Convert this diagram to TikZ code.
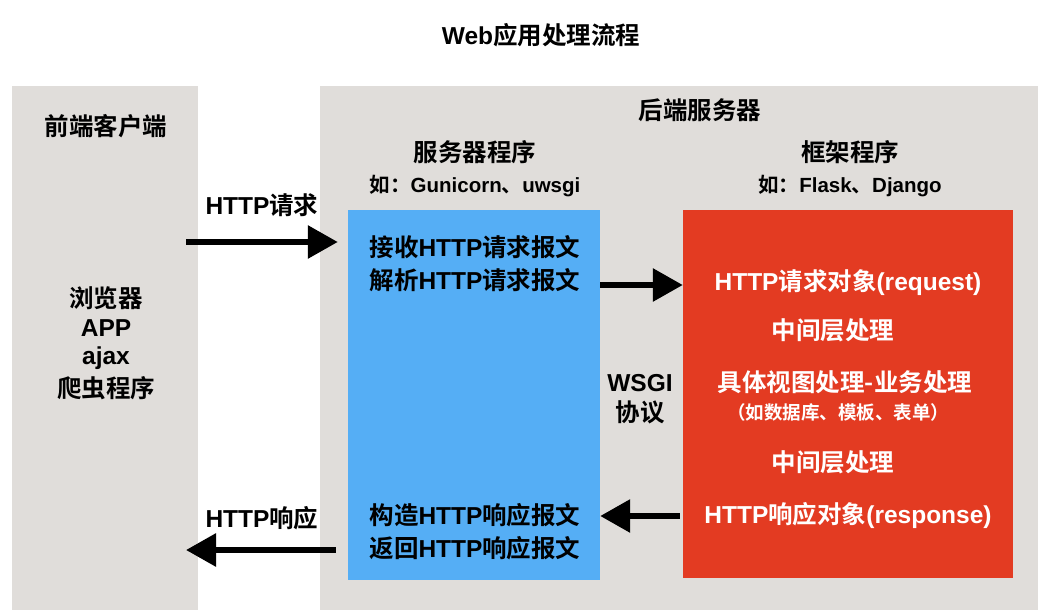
\documentclass[tikz,border=0pt]{standalone}
\usepackage{fontspec}
\setmainfont{Liberation Sans}
\newfontfamily\cjkfont{Noto Sans CJK SC}[BoldFont={* Bold}]
\newcommand{\zh}[1]{{\cjkfont #1}}
\usetikzlibrary{arrows.meta}
\definecolor{panelgray}{HTML}{E0DDDA}
\definecolor{srvblue}{HTML}{55AEF5}
\definecolor{fwred}{HTML}{E33B22}
\tikzset{
  panel/.style={fill=panelgray, draw=none},
  txt/.style={font=\bfseries\fontsize{24.5}{26}\selectfont, text=black, inner sep=0pt},
  subtxt/.style={font=\bfseries\fontsize{20.5}{22}\selectfont, text=black, inner sep=0pt},
  wtxt/.style={font=\bfseries\fontsize{24.5}{26}\selectfont, text=white, inner sep=0pt},
  wsmall/.style={font=\bfseries\fontsize{18.5}{20}\selectfont, text=white, inner sep=0pt},
  bigarrow/.style={line width=6pt, -{Triangle[length=30pt,width=32pt]}, draw=black},
}
\begin{document}
\begin{tikzpicture}[x=1pt,y=-1pt]
\useasboundingbox (0,0) rectangle (1038,610);
\fill[white] (0,0) rectangle (1038,610);
% title
\node[txt] (title) at (541,35) {Web\zh{应用处理流程}};
% panels
\fill[panel] (12,86) rectangle (198,610);
\fill[panel] (320,86) rectangle (1038,610);
\node[txt] (front) at (106,126) {\zh{前端客户端}};
\node[txt] (back) at (700,110) {\zh{后端服务器}};
\node[txt] (srvtitle) at (475,152) {\zh{服务器程序}};
\node[subtxt] (srvsub) at (475,186) {\zh{如：}Gunicorn\zh{、}uwsgi};
\node[txt] (fwtitle) at (850,152) {\zh{框架程序}};
\node[subtxt] (fwsub) at (850,186) {\zh{如：}Flask\zh{、}Django};
% client list
\node[txt] (c1) at (106,298) {\zh{浏览器}};
\node[txt] (c2) at (106,328) {APP};
\node[txt] (c3) at (106,358) {ajax};
\node[txt] (c4) at (106,388) {\zh{爬虫程序}};
% boxes
\node[fill=srvblue, minimum width=252pt, minimum height=370pt, inner sep=0pt] (srv) at (474,395) {};
\node[fill=fwred, minimum width=330pt, minimum height=368pt, inner sep=0pt] (fw) at (848,394) {};
% server text
\node[txt] (s1) at (475,247) {\zh{接收}HTTP\zh{请求报文}};
\node[txt] (s2) at (475,280) {\zh{解析}HTTP\zh{请求报文}};
\node[txt] (s3) at (475,515) {\zh{构造}HTTP\zh{响应报文}};
\node[txt] (s4) at (475,548) {\zh{返回}HTTP\zh{响应报文}};
% framework text
\node[wtxt] (f1) at (848,283) {HTTP\zh{请求对象}(request)};
\node[wtxt] (f2) at (833,330) {\zh{中间层处理}};
\node[wtxt] (f3) at (845,382) {\zh{具体视图处理-业务处理}};
\node[wsmall] (f4) at (838,412) {\zh{（如数据库、模板、表单）}};
\node[wtxt] (f5) at (833,462) {\zh{中间层处理}};
\node[wtxt] (f6) at (848,515) {HTTP\zh{响应对象}(response)};
% WSGI
\node[txt] (w1) at (640,383) {WSGI};
\node[txt] (w2) at (640,412) {\zh{协议}};
% arrow labels
\node[txt] (req) at (262,205) {HTTP\zh{请求}};
\node[txt] (resp) at (262,518) {HTTP\zh{响应}};
% arrows
\coordinate (reqstart) at (186,242);
\coordinate (respend) at (186,550);
\draw[bigarrow] (reqstart) -- ([xshift=-10pt]srv.west |- reqstart);
\draw[bigarrow] ([xshift=-12pt]srv.west |- respend) -- (respend);
\draw[bigarrow] (srv.east |- 0,285) -- (fw.west |- 0,285);
\draw[bigarrow] ([xshift=-3pt]fw.west |- 0,516) -- (srv.east |- 0,516);
\end{tikzpicture}
\end{document}
